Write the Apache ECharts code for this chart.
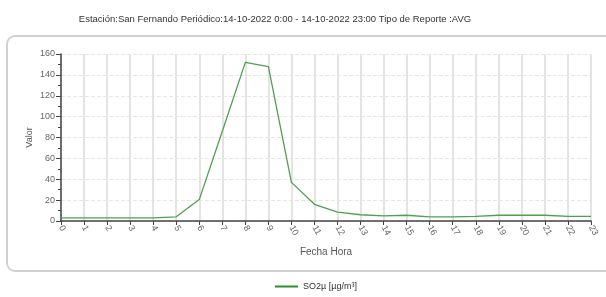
<!DOCTYPE html>
<html>
<head>
<meta charset="utf-8">
<script src="https://cdn.jsdelivr.net/npm/echarts@6/dist/echarts.min.js"></script>
<style>
  html, body { margin: 0; padding: 0; background: #fff; }
  #chart { width: 606px; height: 297px; }
</style>
</head>
<body>
<div id="chart"></div>
<script>
// datos del reporte
var horas = ['0','1','2','3','4','5','6','7','8','9','10','11','12','13','14','15','16','17','18','19','20','21','22','23'];
var so2 = [3, 3, 3, 3, 3, 4, 20.5, 86, 152, 148, 37, 16, 8.5, 6, 5, 5.5, 4, 4, 4.5, 5.5, 5.5, 5.5, 4.5, 4.5];
var serieNombre = 'SO2µ [µg/m³]';
var titulo = 'Estación:San Fernando Periódico:14-10-2022 0:00 - 14-10-2022 23:00 Tipo de Reporte :AVG';

var myChart = echarts.init(document.getElementById('chart'));

var option = {
    animation: false,
    title: {
        text: titulo,
        left: 270,
        textAlign: 'center',
        top: 9,
        textStyle: {
            fontFamily: 'Liberation Sans, sans-serif',
            fontSize: 9.5,
            fontWeight: 'normal',
            color: '#333'
        }
    },
    // marco redondeado alrededor del grafico
    graphic: [{
        type: 'rect',
        shape: { x: 7, y: 36, width: 640, height: 235, r: 8 },
        style: { fill: 'none', stroke: '#d2d2d2', lineWidth: 2 },
        silent: true,
        z: -1
    }],
    legend: {
        bottom: 1,
        left: 270,
        icon: 'rect',
        itemWidth: 23,
        itemHeight: 2,
        itemGap: 6,
        textStyle: { fontSize: 9, color: '#333', fontFamily: 'Liberation Sans, sans-serif' },
        data: [{ name: serieNombre, itemStyle: { color: '#2d8a2d' } }]
    },
    grid: {
        left: 61,
        right: 15,
        top: 54,
        bottom: 76,
        containLabel: false
    },
    xAxis: {
        type: 'category',
        data: horas,
        boundaryGap: false,
        name: 'Fecha Hora',
        nameLocation: 'middle',
        nameGap: 26,
        nameTextStyle: { fontSize: 10, color: '#555', fontFamily: 'Liberation Sans, sans-serif' },
        axisLine: { lineStyle: { color: '#444', width: 1.5 } },
        axisTick: { show: true, length: 4, lineStyle: { color: '#444' } },
        axisLabel: {
            rotate: -62,
            fontSize: 9,
            color: '#666',
            margin: 5,
            interval: 0,
            fontFamily: 'Liberation Sans, sans-serif'
        },
        splitLine: { show: true, lineStyle: { color: '#e4e4e4', width: 2 } }
    },
    yAxis: {
        type: 'value',
        min: 0,
        max: 160,
        interval: 20,
        name: 'Valor',
        nameLocation: 'middle',
        nameGap: 27,
        nameMoveOverlap: false,
        nameTextStyle: { fontSize: 9, color: '#555', fontFamily: 'Liberation Sans, sans-serif' },
        axisLine: { show: true, lineStyle: { color: '#444', width: 1.5 } },
        axisTick: { show: true, inside: false, length: 5, lineStyle: { color: '#444' } },
        minorTick: { show: true, splitNumber: 2, length: 3, lineStyle: { color: '#444' } },
        axisLabel: { fontSize: 9, color: '#666', margin: 6, fontFamily: 'Liberation Sans, sans-serif' },
        splitLine: { show: true, lineStyle: { color: '#e6e6e6', type: 'dashed', width: 1 } }
    },
    series: [{
        name: serieNombre,
        type: 'line',
        data: so2,
        showSymbol: false,
        symbol: 'none',
        color: '#2d8a2d',
        lineStyle: { color: '#4fa04f', width: 1.3 }
    }]
};

myChart.setOption(option);
</script>
</body>
</html>
